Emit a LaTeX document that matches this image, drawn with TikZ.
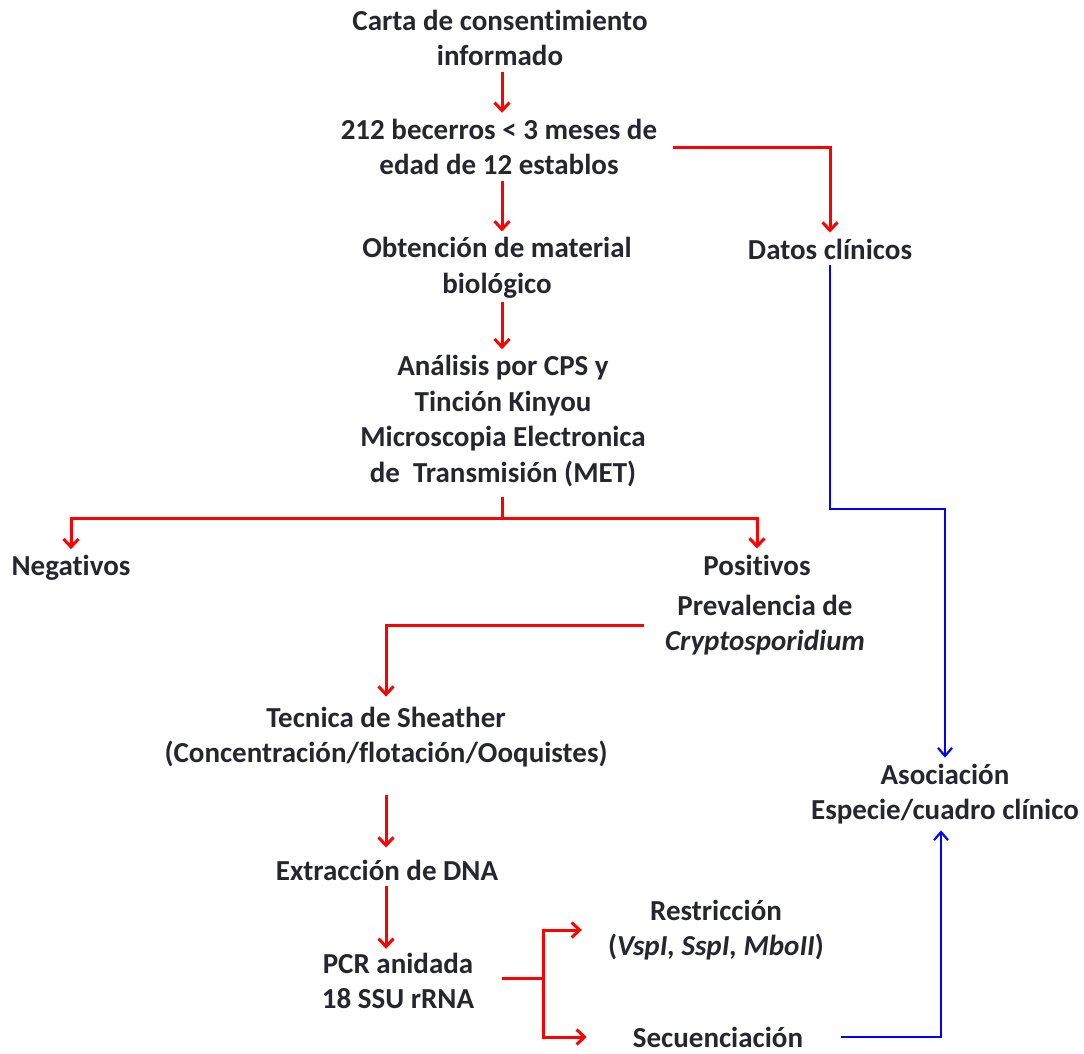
\documentclass[tikz,border=0pt]{standalone}
\usepackage{fontspec}
\setmainfont{Carlito}[Ligatures=CommonOff]
\usetikzlibrary{arrows.meta}
\definecolor{txtgray}{RGB}{38,38,48}
\definecolor{arrred}{RGB}{255,0,0}
\definecolor{arrblue}{RGB}{0,0,255}
\begin{document}
\begin{tikzpicture}[x=1pt,y=-1pt,
  lbl/.style={align=center,inner sep=6pt,text=txtgray,font=\fontsize{29}{35.5}\selectfont\bfseries},
  redarr/.style={draw=arrred,line width=3pt,-{Straight Barb[length=8pt,width=15pt,line width=3pt]}},
  redline/.style={draw=arrred,line width=3pt},
  bluearr/.style={draw=arrblue,line width=2.2pt,-{Straight Barb[length=8pt,width=14pt,line width=2.2pt]}}]
\useasboundingbox (0,0) rectangle (1084,1053);
%
\node[lbl] (consent) at (500,38) {Carta de consentimiento\\informado};
\node[lbl] (becerros) at (499,147) {212 becerros < 3 meses de\\edad de 12 establos};
\node[lbl] (datos) at (830,249) {Datos clínicos};
\node[lbl] (obtencion) at (497,268) {Obtención de material\\biológico};
\node[lbl] (analisis) at (503,421) {Análisis por CPS y\\Tinción Kinyou\\Microscopia Electronica\\de~ Transmisión (MET)};
%
\node[lbl] (negativos) at (71,568) {Negativos};
\node[lbl] (positivos) at (757,565) {Positivos};
\node[lbl] (prevalencia) at (765,625) {Prevalencia de\\\textit{Cryptosporidium}};
%
\node[lbl] (sheather) at (386,737) {Tecnica de Sheather\\(Concentración/flotación/Ooquistes)};
\node[lbl] (asociacion) at (945,794) {Asociación\\Especie/cuadro clínico};
\node[lbl] (extraccion) at (387,870) {Extracción de DNA};
\node[lbl] (pcr) at (398,981) {PCR anidada\\18 SSU rRNA};
\node[lbl] (restriccion) at (716,930) {Restricción\\(\textit{VspI, SspI, MboII})};
\node[lbl] (secuenciacion) at (718,1037) {Secuenciación};
%
\coordinate (split) at (502,518);
\coordinate (fork) at (543,978);
\coordinate (bend) at (830,509);
%
\draw[redarr] (consent.south -| 502,0) -- (becerros.north -| 502,0);
\draw[redarr] ([xshift=10pt]becerros.east) -| (datos.north);
\draw[redarr] (becerros.south -| 502,0) -- (obtencion.north -| 502,0);
\draw[redarr] ([yshift=3pt]obtencion.south -| 502,0) -- (analisis.north -| 502,0);
%
\draw[redline] ([yshift=-4pt]analisis.south -| split) -- (split);
\draw[redarr] (split) -| (negativos.north);
\draw[redarr] (split) -| (positivos.north);
%
\draw[redarr] ([xshift=-15pt]prevalencia.west) -| ([yshift=4pt]sheather.north);
\draw[redarr, shorten <=22pt, shorten >=6pt] (sheather.south) -- (sheather.south |- extraccion.north);
\draw[redarr, shorten >=-2pt] (extraccion.south -| sheather.south) -- (pcr.north -| sheather.south);
%
\draw[redline] ([xshift=22pt]pcr.east |- fork) -- (fork);
\draw[redarr, shorten >=20pt] (fork) |- (restriccion.west);
\draw[redarr, shorten >=40pt] (fork) |- (secuenciacion.west);
%
\draw[bluearr] (datos.south) -- (bend) -| (asociacion.north);
\draw[bluearr] ([xshift=32pt]secuenciacion.east) -| ([xshift=-4pt]asociacion.south);
\end{tikzpicture}
\end{document}
